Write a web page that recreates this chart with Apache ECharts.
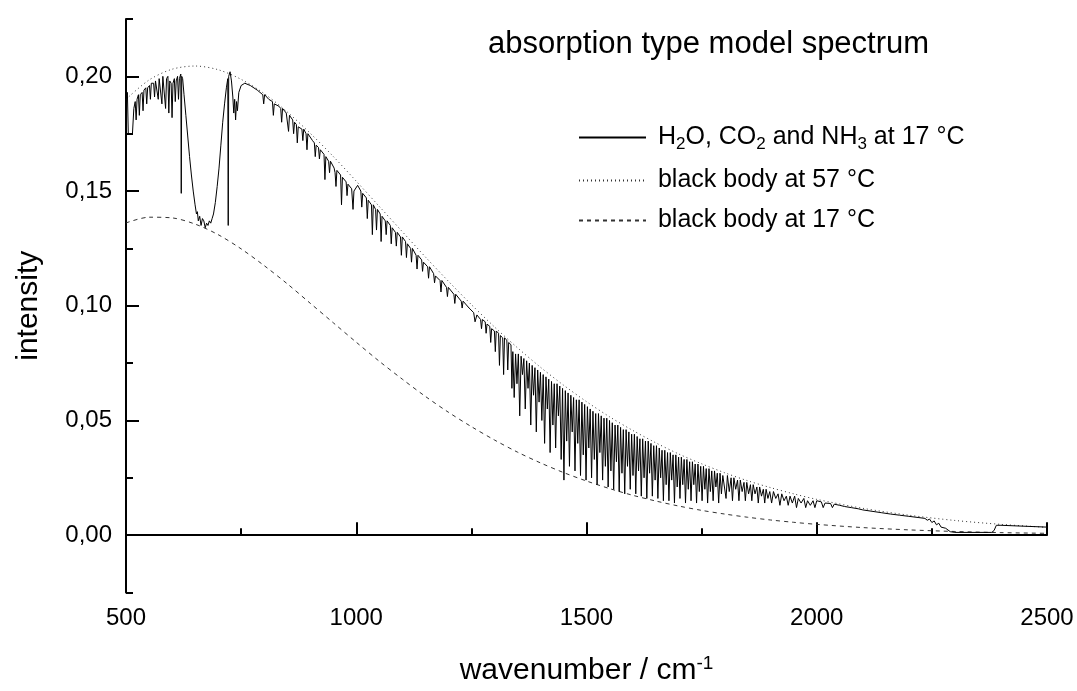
<!DOCTYPE html>
<html>
<head>
<meta charset="utf-8">
<script src="https://cdn.jsdelivr.net/npm/echarts@6/dist/echarts.min.js"></script>
<style>
  html, body { margin: 0; padding: 0; background: #fff; }
  #chart { width: 1077px; height: 691px; }
</style>
</head>
<body>
<div id="chart"></div>
<script>
// black body curves, every 50 cm-1 (wider steps in the tail)
const bbWavenumbers = [500, 550, 600, 650, 700, 750, 800, 850, 900, 950, 1000, 1050, 1100, 1150, 1200, 1250, 1300, 1350, 1400, 1450, 1500, 1550, 1600, 1650, 1700, 1750, 1800, 1850, 1900, 1950, 2000, 2100, 2200, 2300, 2400, 2500];
const bb57 = [0.1900, 0.1984, 0.2031, 0.2045, 0.2029, 0.1987, 0.1925, 0.1845, 0.1752, 0.1651, 0.1543, 0.1433, 0.1323, 0.1213, 0.1107, 0.1005, 0.0908, 0.0817, 0.0732, 0.0654, 0.0582, 0.0516, 0.0457, 0.0403, 0.0354, 0.0311, 0.0272, 0.0237, 0.0207, 0.0180, 0.0156, 0.0117, 0.0087, 0.0064, 0.0047, 0.0034];
const bb17 = [0.1361, 0.1386, 0.1383, 0.1356, 0.1310, 0.1248, 0.1175, 0.1096, 0.1011, 0.0926, 0.0841, 0.0758, 0.0680, 0.0605, 0.0536, 0.0473, 0.0415, 0.0362, 0.0315, 0.0273, 0.0236, 0.0203, 0.0174, 0.0149, 0.0127, 0.0108, 0.0092, 0.0078, 0.0066, 0.0056, 0.0047, 0.0033, 0.0023, 0.0016, 0.0011, 0.0008];

// model spectrum (wavenumber, intensity)
const spectrum = [
  [500,0.190],[503,0.193],[505,0.175],[514,0.175],[517,0.186],[520,0.189],[522,0.181],[524,0.190],[527,0.192],[529,0.183],
  [531,0.192],[535,0.193],[537,0.185],[539,0.194],[543,0.195],[545,0.188],[547,0.195],[551,0.196],[553,0.190],[555,0.197],
  [560,0.197],[562,0.191],[564,0.198],[568,0.198],[570,0.190],[572,0.199],[576,0.199],[578,0.188],[580,0.200],[584,0.200],
  [586,0.186],[588,0.199],[591,0.200],[593,0.184],[595,0.198],[598,0.197],[600,0.182],[602,0.197],[605,0.199],[607,0.189],
  [609,0.198],[612,0.200],[614,0.190],[616,0.199],[619,0.201],[620,0.149],[621,0.200],[623,0.199],
  [626,0.192],[630,0.183],[634,0.174],[638,0.165],[642,0.157],[646,0.150],[650,0.144],[653,0.140],[655,0.141],[657,0.137],
  [660,0.139],[663,0.135],[666,0.138],[669,0.137],[672,0.134],[675,0.136],[678,0.135],[681,0.137],[684,0.136],[687,0.138],
  [690,0.140],[694,0.145],[698,0.152],[702,0.160],[706,0.170],[710,0.180],[714,0.188],[718,0.195],[721,0.199],[722,0.135],
  [723,0.200],[726,0.202],[729,0.198],[732,0.191],[734,0.184],[736,0.190],[738,0.181],[740,0.189],[742,0.185],[745,0.193],
  [750,0.196],[758,0.197],[770,0.196],[785,0.194],[797,0.192],[799,0.188],[801,0.192],[810,0.190],[818,0.189],[820,0.183],
  [822,0.188],[832,0.187],[836,0.186],[838,0.180],[840,0.186],[848,0.184],[851,0.184],[853,0.176],[855,0.183],[862,0.181],
  [864,0.175],[866,0.180],[870,0.179],[872,0.171],[874,0.178],[882,0.177],[884,0.172],[886,0.177],[891,0.175],[893,0.168],
  [895,0.175],[905,0.172],[909,0.171],[911,0.165],[913,0.170],[918,0.169],[920,0.164],[922,0.168],[930,0.166],[932,0.155],
  [934,0.165],[940,0.163],[942,0.158],[944,0.163],[952,0.160],[954,0.158],[956,0.152],[958,0.159],[966,0.157],[968,0.144],
  [970,0.156],[978,0.154],[980,0.148],[982,0.153],[990,0.151],[993,0.142],[995,0.150],[1003,0.1525],
  [1010,0.150],[1012,0.143],[1014,0.149],[1022,0.147],[1024,0.138],[1026,0.146],[1033,0.144],[1035,0.131],[1037,0.144],[1042,0.142],
  [1044,0.133],[1046,0.142],[1052,0.140],[1054,0.128],[1056,0.139],[1063,0.137],[1065,0.131],[1067,0.137],[1074,0.135],[1076,0.127],
  [1078,0.134],[1085,0.132],[1087,0.126],[1089,0.132],[1096,0.130],[1098,0.122],[1100,0.130],[1107,0.128],[1109,0.121],[1111,0.127],
  [1118,0.125],[1120,0.119],[1122,0.125],[1130,0.122],[1132,0.116],[1134,0.122],[1142,0.120],[1144,0.115],[1146,0.119],[1155,0.117],
  [1157,0.112],[1159,0.117],[1168,0.114],[1170,0.110],[1172,0.113],[1182,0.111],[1184,0.106],[1186,0.111],[1196,0.108],[1198,0.104],
  [1200,0.108],[1212,0.105],[1214,0.101],[1216,0.105],[1228,0.102],[1230,0.099],[1232,0.102],[1245,0.099],[1255,0.097],[1258,0.093],
  [1262,0.096],[1270,0.094],[1272,0.090],[1274,0.094],[1280,0.093],[1282,0.088],[1284,0.092],[1290,0.091],[1292,0.084],[1294,0.090],
  [1300,0.089],[1302,0.080],[1304,0.089],[1309,0.088],[1311,0.074],[1313,0.087],[1318,0.086],[1320,0.070],[1322,0.086],[1327,0.085],
  [1329,0.072],[1331,0.084],[1336,0.083],[1338,0.064],[1340,0.080],[1343,0.060],[1346,0.079],[1349,0.066],[1352,0.079],[1355,0.052],
  [1358,0.078],[1361,0.070],[1364,0.077],[1367,0.055],[1370,0.076],[1373,0.064],[1376,0.075],[1379,0.048],[1382,0.074],[1385,0.061],
  [1388,0.073],[1391,0.045],[1394,0.072],[1397,0.058],[1400,0.071],[1403,0.050],[1406,0.070],[1409,0.040],[1412,0.069],[1415,0.055],
  [1418,0.068],[1421,0.036],[1424,0.067],[1427,0.048],[1430,0.066],[1433,0.038],[1436,0.066],[1439,0.052],[1442,0.065],[1445,0.033],
  [1448,0.064],[1451,0.024],[1454,0.063],[1457,0.041],[1460,0.062],[1463,0.030],[1466,0.061],[1469,0.045],[1472,0.060],[1475,0.028],
  [1478,0.059],[1481,0.040],[1484,0.059],[1487,0.026],[1490,0.058],[1493,0.035],[1496,0.057],[1499,0.024],[1502,0.056],[1505,0.038],
  [1508,0.055],[1511,0.025],[1514,0.054],[1517,0.033],[1520,0.053],[1523,0.022],[1526,0.053],[1529,0.036],[1532,0.052],[1535,0.024],
  [1538,0.051],[1541,0.030],[1544,0.051],[1547,0.021],[1550,0.050],[1553,0.028],[1556,0.049],[1559,0.020],[1562,0.048],[1565,0.032],
  [1568,0.048],[1571,0.019],[1574,0.047],[1577,0.027],[1580,0.046],[1583,0.018],[1586,0.046],[1589,0.030],[1592,0.045],[1595,0.020],
  [1598,0.044],[1601,0.026],[1604,0.044],[1607,0.018],[1610,0.043],[1613,0.028],[1616,0.042],[1619,0.017],[1622,0.042],[1625,0.025],
  [1628,0.041],[1631,0.016],[1634,0.041],[1637,0.027],[1640,0.040],[1643,0.017],[1646,0.039],[1649,0.024],[1652,0.039],[1655,0.016],
  [1658,0.038],[1661,0.025],[1664,0.037],[1667,0.015],[1670,0.037],[1673,0.022],[1676,0.036],[1679,0.015],[1682,0.036],[1685,0.024],
  [1688,0.035],[1691,0.014],[1694,0.035],[1697,0.021],[1700,0.034],[1703,0.016],[1706,0.034],[1709,0.022],[1712,0.033],[1715,0.014],
  [1718,0.033],[1721,0.020],[1724,0.032],[1727,0.015],[1730,0.032],[1733,0.022],[1736,0.031],[1739,0.014],[1742,0.031],[1745,0.019],
  [1748,0.030],[1751,0.015],[1754,0.030],[1757,0.020],[1760,0.029],[1763,0.014],[1766,0.029],[1769,0.019],[1772,0.028],[1775,0.015],
  [1778,0.028],[1781,0.021],[1784,0.027],[1787,0.014],[1790,0.027],[1793,0.018],[1796,0.026],[1800,0.026],[1803,0.016],[1806,0.026],
  [1810,0.019],[1814,0.025],[1817,0.015],[1820,0.025],[1824,0.020],[1828,0.024],[1831,0.015],[1834,0.024],[1838,0.019],[1842,0.023],
  [1845,0.015],[1848,0.023],[1852,0.018],[1856,0.022],[1859,0.015],[1862,0.022],[1866,0.018],[1870,0.021],[1873,0.014],[1876,0.021],
  [1880,0.017],[1884,0.020],[1887,0.014],[1890,0.020],[1894,0.016],[1898,0.019],[1902,0.014],[1906,0.019],[1911,0.016],[1916,0.018],
  [1920,0.013],[1924,0.018],[1929,0.015],[1934,0.017],[1938,0.013],[1942,0.017],[1947,0.014],[1952,0.017],[1956,0.012],[1960,0.016],
  [1966,0.014],[1972,0.016],[1976,0.012],[1980,0.015],[1986,0.013],[1992,0.015],[1996,0.012],[2000,0.015],
  [2010,0.0145],[2014,0.012],[2018,0.014],[2030,0.0138],[2034,0.012],[2038,0.0135],[2050,0.013],[2060,0.0125],[2075,0.012],[2090,0.0115],
  [2100,0.011],[2120,0.0104],[2140,0.0098],[2160,0.0092],[2180,0.0087],[2200,0.0082],[2220,0.0077],[2235,0.0073],
  [2240,0.0065],[2245,0.0070],[2250,0.0055],[2255,0.0062],[2260,0.0045],[2265,0.0052],[2270,0.0035],[2280,0.0030],[2290,0.0015],[2300,0.0012],
  [2380,0.0012],[2385,0.0020],[2390,0.0043],[2400,0.0043],[2450,0.0039],[2500,0.0035]
];

const seriesNames = ['H2O, CO2 and NH3 at 17 °C', 'black body at 57 °C', 'black body at 17 °C'];
const xTicks = { min: 500, max: 2500, step: 500 };
const yTicks = { min: -0.025, max: 0.225, step: 0.05 };

const FONT = '"Liberation Sans", Arial, sans-serif';
const chart = echarts.init(document.getElementById('chart'));

const pairs = (xs, ys) => xs.map((x, i) => [x, ys[i]]);

chart.setOption({
  animation: false,
  backgroundColor: '#fff',
  textStyle: { fontFamily: FONT, color: '#000' },
  title: {
    text: 'absorption type model spectrum',
    left: 483, top: 24,
    textStyle: { fontFamily: FONT, fontSize: 31, fontWeight: 'normal', color: '#000' }
  },
  legend: {
    orient: 'vertical',
    left: 573, top: 120,
    itemWidth: 67, itemHeight: 14, itemGap: 15,
    itemStyle: { opacity: 0 },
    textStyle: {
      fontFamily: FONT, fontSize: 25, color: '#000',
      rich: {
        t: { fontFamily: FONT, fontSize: 25, color: '#000' },
        sub: { fontFamily: FONT, fontSize: 17, color: '#000', verticalAlign: 'bottom', padding: [14, 0, 0, 0] }
      }
    },
    formatter: name => name === seriesNames[0]
      ? '{t| H}{sub|2}{t|O, CO}{sub|2}{t| and NH}{sub|3}{t| at 17 °C}'
      : '{t| ' + name + '}',
    data: seriesNames
  },
  grid: { left: 126, right: 30, top: 19, bottom: 94, containLabel: false },
  xAxis: {
    type: 'value', min: xTicks.min, max: xTicks.max, interval: xTicks.step,
    axisLine: { lineStyle: { color: '#000', width: 2 } },
    axisTick: { inside: true, length: 13, lineStyle: { color: '#000', width: 2 } },
    minorTick: { show: true, splitNumber: 2, length: 7, lineStyle: { color: '#000', width: 2 } },
    splitLine: { show: false },
    axisLabel: { fontFamily: FONT, fontSize: 24, color: '#000', margin: 14, formatter: v => String(v) },
    name: '{a|wavenumber / cm}{s|-1}',
    nameLocation: 'middle', nameGap: 62,
    nameTextStyle: {
      rich: {
        a: { fontFamily: FONT, fontSize: 30, color: '#000' },
        s: { fontFamily: FONT, fontSize: 19, color: '#000', verticalAlign: 'top', padding: [0, 0, 14, 0] }
      }
    }
  },
  yAxis: [
    {
      // ticks: step ticks land on the .025 positions, minor ticks on the labelled ones
      type: 'value', min: yTicks.min, max: yTicks.max, interval: yTicks.step,
      axisLine: { show: true, lineStyle: { color: '#000', width: 2 } },
      axisTick: { inside: true, length: 7, lineStyle: { color: '#000', width: 2 } },
      minorTick: { show: true, splitNumber: 2, length: 13, lineStyle: { color: '#000', width: 2 } },
      splitLine: { show: false },
      axisLabel: { show: false }
    },
    {
      type: 'value', min: yTicks.min, max: yTicks.max, interval: yTicks.step / 2,
      position: 'left',
      axisLine: { show: false }, axisTick: { show: false }, splitLine: { show: false },
      axisLabel: {
        fontFamily: FONT, fontSize: 24, color: '#000', margin: 14,
        formatter: v => Math.round(v * 1000) % 50 === 0 ? v.toFixed(2).replace('.', ',') : ''
      },
      name: 'intensity', nameLocation: 'middle', nameGap: 82, nameRotate: 90,
      nameTextStyle: { fontFamily: FONT, fontSize: 30, color: '#000' }
    }
  ],
  series: [
    {
      name: seriesNames[0], type: 'line', data: spectrum, yAxisIndex: 0,
      symbol: 'none', z: 3,
      lineStyle: { color: '#000', width: 1 }, itemStyle: { color: '#000' }
    },
    {
      name: seriesNames[1], type: 'line', data: pairs(bbWavenumbers, bb57), yAxisIndex: 0,
      symbol: 'none', smooth: 0.3, z: 2,
      lineStyle: { color: '#333', width: 1, type: [1, 3] }, itemStyle: { color: '#333' }
    },
    {
      name: seriesNames[2], type: 'line', data: pairs(bbWavenumbers, bb17), yAxisIndex: 0,
      symbol: 'none', smooth: 0.3, z: 2,
      lineStyle: { color: '#333', width: 1, type: [4, 4] }, itemStyle: { color: '#333' }
    }
  ]
});
</script>
</body>
</html>
